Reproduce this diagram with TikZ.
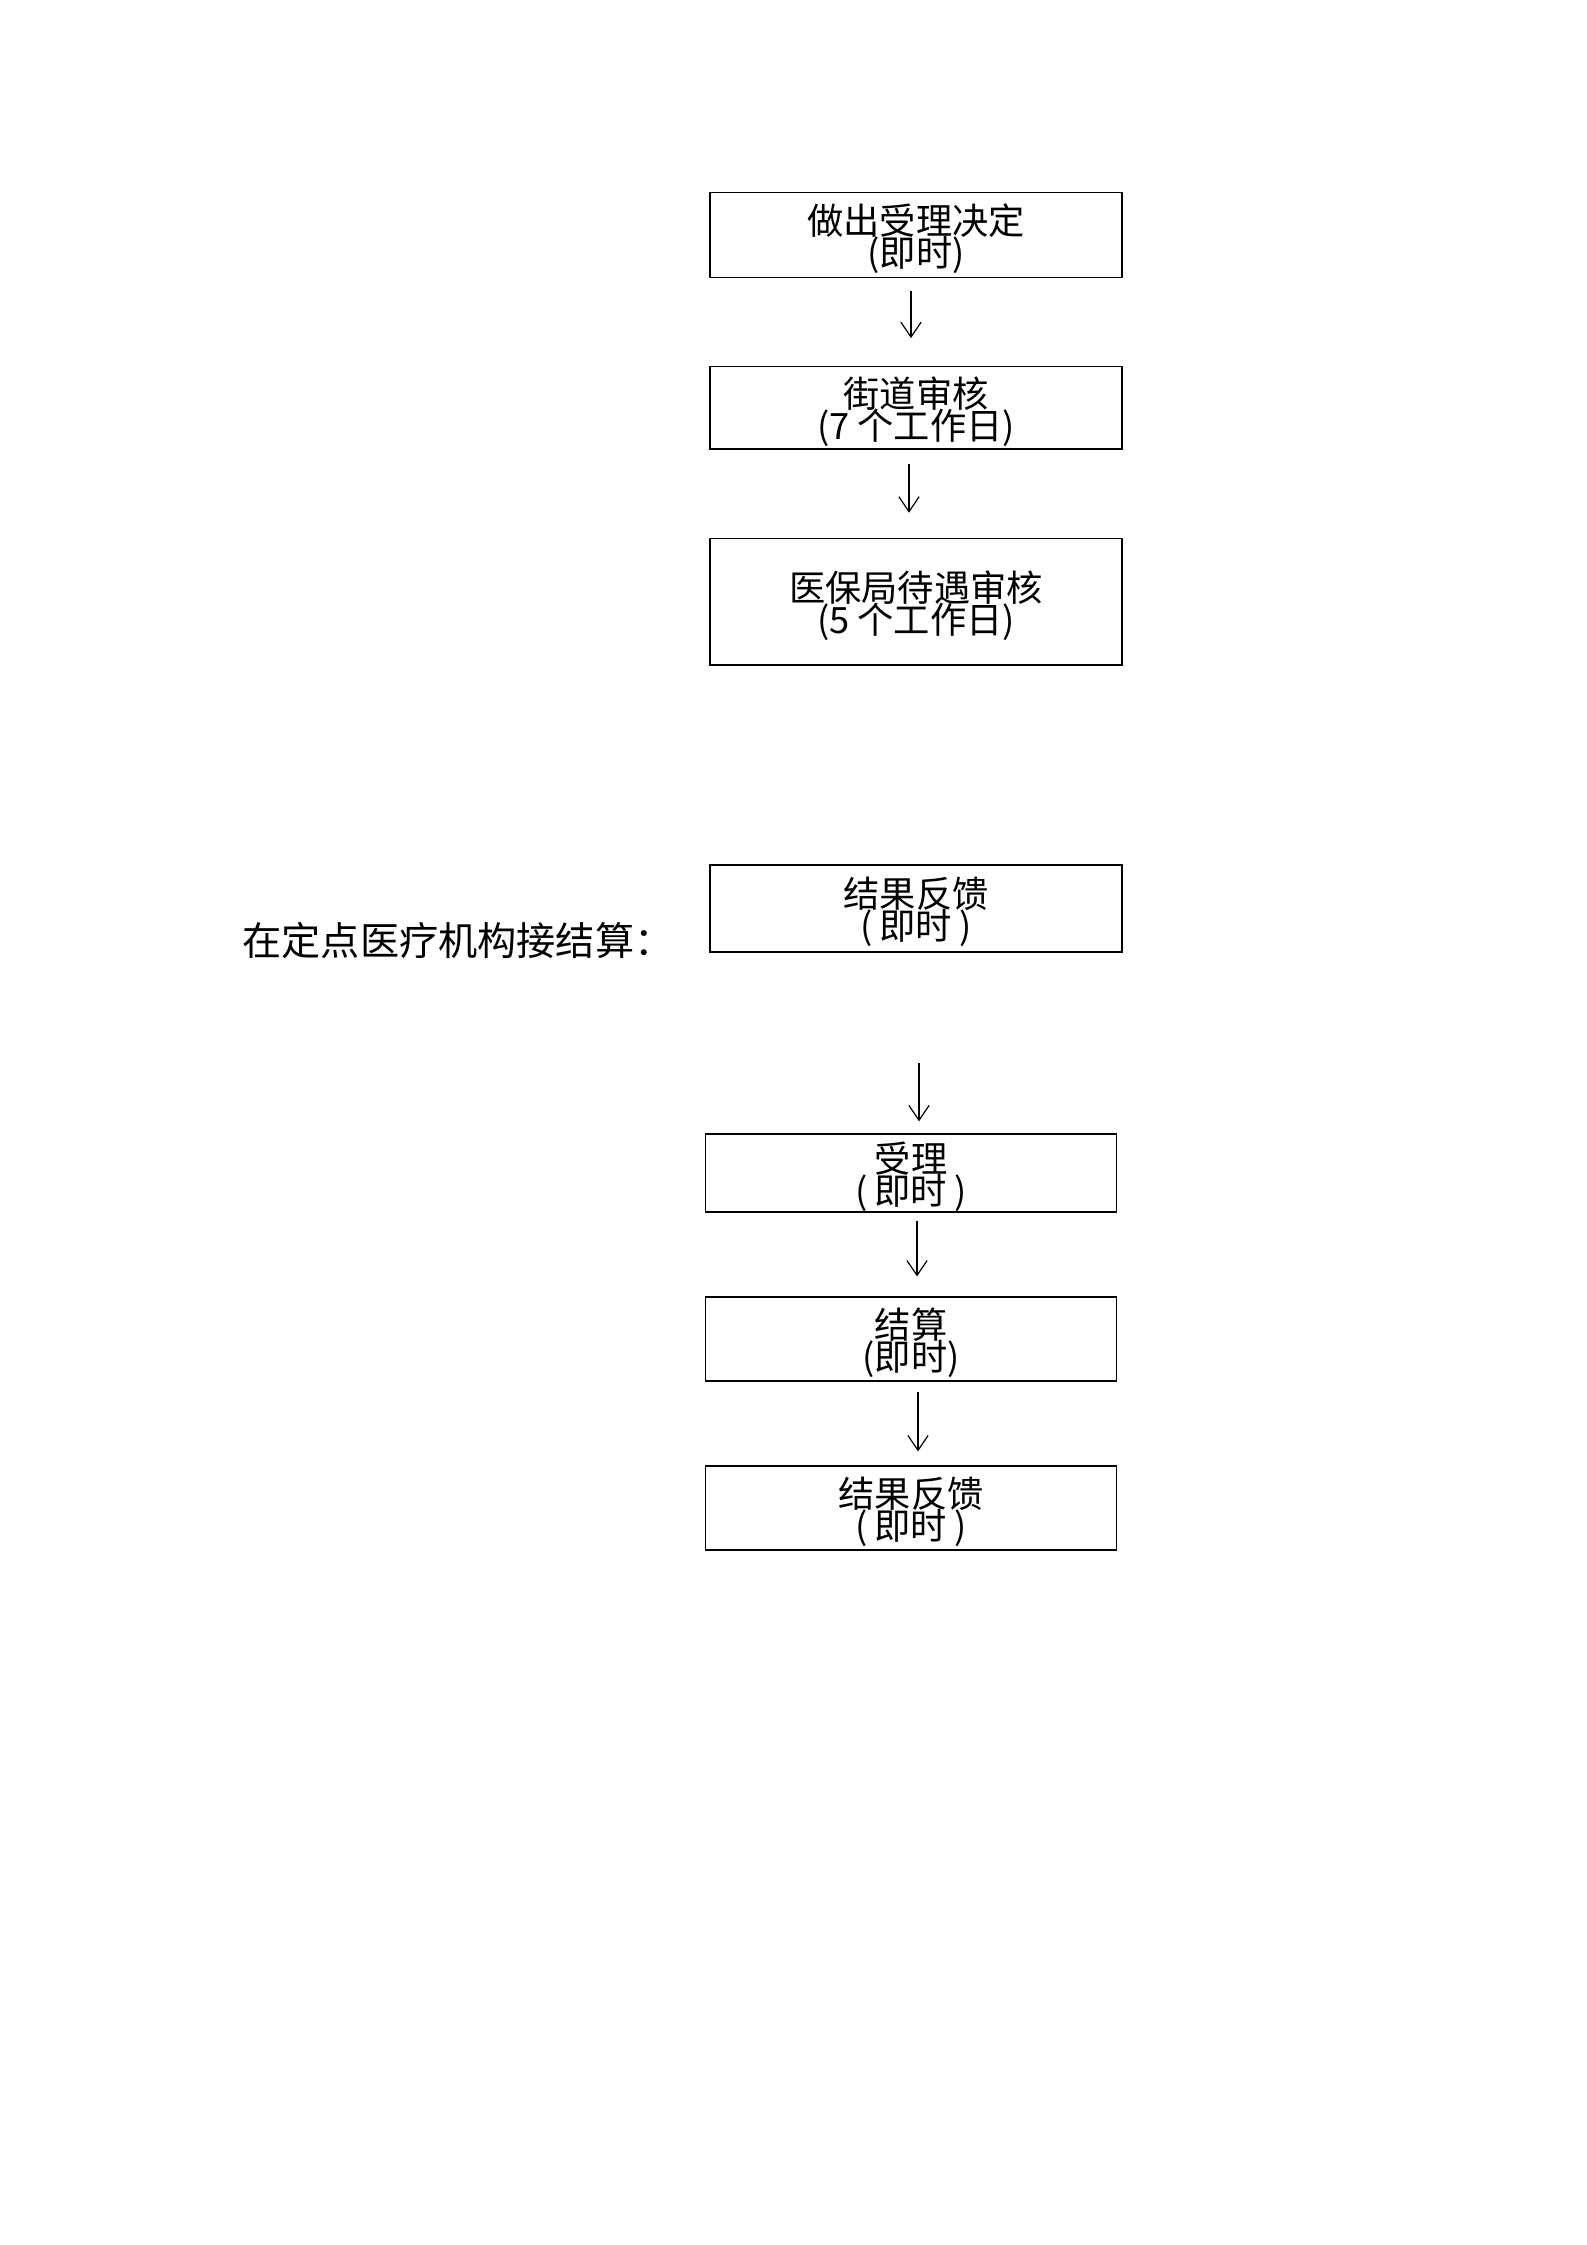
\documentclass[tikz,border=0pt]{standalone}
\usepackage{fontspec}
\setmainfont{Noto Sans CJK SC}
\usetikzlibrary{arrows.meta}
\newcommand{\cjkpar}[1]{(\kern2.8pt #1\kern2.8pt)}
\newcommand{\boxfont}{\fontsize{13.6pt}{12pt}\selectfont\lineskiplimit=-30pt\relax}
\begin{document}
\begin{tikzpicture}[x=0.3751pt,y=-0.3751pt,
  box/.style={draw,line width=0.45pt,minimum width=154.5pt,inner sep=0pt},
  boxb/.style={box,minimum width=154.3pt},
  txt/.style={inner sep=0pt,align=center,font=\boxfont,yshift=-1.4pt},
  arr/.style={line width=0.45pt,-{Straight Barb[length=5.6pt,width=7.6pt,line width=0.45pt]}},
  lbl/.style={font=\fontsize{14.7pt}{14pt}\selectfont,inner sep=0pt}]
\useasboundingbox (0,0) rectangle (1587,2245);
\node[box,minimum height=31.9pt] (b1) at (916,234.8) {};
\node[box,minimum height=30.9pt] (b2) at (916,407.9) {};
\node[box,minimum height=47.5pt] (b3) at (916,601.7) {};
\node[box,minimum height=32.6pt] (b4) at (916,908.5) {};
\node[boxb,minimum height=29.3pt] (b5) at (911,1173) {};
\node[boxb,minimum height=31.5pt] (b6) at (911,1339) {};
\node[boxb,minimum height=31.5pt] (b7) at (911,1508) {};
\node[txt] (t1) at (b1.center) {做出受理决定\\(即时)};
\node[txt] (t2) at (b2.center) {街道审核\\(7 个工作日)};
\node[txt] (t3) at (b3.center) {医保局待遇审核\\(5 个工作日)};
\node[txt] (t4) at (b4.center) {结果反馈\\\cjkpar{即时}};
\node[txt] (t5) at (b5.center) {受理\\\cjkpar{即时}};
\node[txt] (t6) at (b6.center) {结算\\(即时)};
\node[txt] (t7) at (b7.center) {结果反馈\\\cjkpar{即时}};
\node[lbl] (l1) at (458,941) {在定点医疗机构接结算：};
\coordinate (x1) at (911,0);
\coordinate (x2) at (909,0);
\coordinate (x4) at (919,0);
\coordinate (x5) at (917,0);
\coordinate (x6) at (918,0);
\draw[arr,shorten <=4.9pt,shorten >=10.5pt] (b1.south -| x1) -- (b2.north -| x1);
\draw[arr,shorten <=5.25pt,shorten >=9.4pt] (b2.south -| x2) -- (b3.north -| x2);
\draw[arr,shorten <=41.6pt,shorten >=4.5pt] (b4.south -| x4) -- (b5.north -| x4);
\draw[arr,shorten <=3pt,shorten >=7.5pt] (b5.south -| x5) -- (b6.north -| x5);
\draw[arr,shorten <=3.75pt,shorten >=5.25pt] (b6.south -| x6) -- (b7.north -| x6);
\end{tikzpicture}
\end{document}
